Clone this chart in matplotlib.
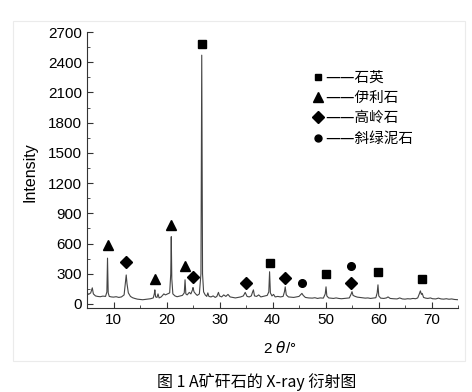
import matplotlib
matplotlib.use("Agg")
import matplotlib.pyplot as plt
from matplotlib.patches import Rectangle
from matplotlib.ticker import MultipleLocator

plt.rcParams['font.family'] = ['Liberation Sans', 'Noto Sans CJK SC', 'DejaVu Sans']

# XRD pattern: 2theta (deg) and intensity
two_theta = [
    5.0, 5.3, 5.7, 6.0, 6.2, 6.6, 7.0, 7.5, 8.0, 8.5, 8.75, 8.87, 9.0, 9.2, 9.6,
    10.0, 10.5, 11.0, 11.5, 12.0, 12.25, 12.4, 12.55, 12.8, 13.2, 13.6, 14.0, 14.5,
    15.0, 15.5, 16.0, 16.5, 17.0, 17.5, 17.7, 17.8, 17.95, 18.2, 18.4, 18.6, 19.0,
    19.5, 19.8, 20.2, 20.6, 20.8, 20.9, 21.0, 21.2, 21.6, 22.0, 22.5, 23.0, 23.35,
    23.5, 23.65, 23.9, 24.3, 24.6, 24.9, 25.0, 25.2, 25.5, 25.8, 26.2, 26.5, 26.65,
    26.8, 27.0, 27.3, 27.6, 27.8, 28.0, 28.4, 28.8, 29.2, 29.5, 29.8, 30.0, 30.4,
    30.8, 31.2, 31.6, 32.0, 32.5, 33.0, 33.5, 34.0, 34.5, 34.85, 35.2, 35.6, 36.0,
    36.25, 36.4, 36.6, 37.0, 37.4, 37.8, 38.2, 38.6, 39.0, 39.3, 39.45, 39.6, 39.9,
    40.2, 40.5, 41.0, 41.5, 42.0, 42.25, 42.4, 42.6, 43.0, 43.5, 44.0, 44.5, 45.0,
    45.35, 45.55, 45.8, 46.2, 46.8, 47.5, 48.0, 48.5, 49.0, 49.6, 49.95, 50.1, 50.25,
    50.6, 51.0, 51.5, 52.0, 52.5, 53.0, 53.5, 54.0, 54.5, 54.85, 55.0, 55.2, 55.6,
    56.0, 56.5, 57.0, 57.5, 58.0, 58.5, 59.0, 59.5, 59.75, 59.9, 60.05, 60.4, 61.0,
    61.5, 61.8, 62.2, 62.8, 63.5, 64.0, 64.5, 65.0, 65.5, 66.0, 66.5, 67.0, 67.4,
    67.7, 67.9, 68.1, 68.25, 68.5, 68.9, 69.3, 69.8, 70.2, 70.8, 71.3, 71.8, 72.3,
    72.8, 73.3, 73.8, 74.3, 75.0,
]
intensity = [
    115, 95, 110, 160, 100, 80, 75, 72, 78, 75, 120, 455, 110, 75, 70,
    68, 72, 65, 70, 90, 220, 288, 200, 110, 75, 62, 55, 48,
    45, 42, 45, 48, 52, 60, 100, 140, 70, 65, 100, 60, 70,
    100, 90, 100, 110, 300, 668, 250, 100, 80, 72, 78, 85, 110,
    240, 100, 90, 115, 100, 140, 163, 120, 100, 85, 100, 300, 2470,
    300, 120, 90, 75, 110, 75, 70, 80, 65, 75, 115, 80, 70,
    90, 75, 95, 70, 65, 60, 65, 70, 80, 115, 75, 70, 80,
    120, 140, 80, 75, 90, 70, 75, 80, 85, 120, 320, 110, 80,
    95, 70, 75, 70, 75, 120, 170, 90, 70, 68, 65, 70, 75,
    95, 105, 85, 65, 60, 58, 62, 55, 60, 58, 100, 170, 80,
    60, 58, 55, 60, 55, 52, 55, 58, 60, 100, 122, 85, 75,
    68, 65, 62, 58, 60, 55, 58, 62, 110, 190, 80, 58, 55,
    60, 70, 55, 52, 50, 60, 50, 48, 52, 50, 55, 52, 60,
    100, 130, 95, 105, 65, 58, 55, 60, 52, 50, 58, 50, 48,
    52, 47, 50, 45, 42,
]

# phase markers (2theta, marker height)
quartz_x = [26.65, 39.45, 50.1, 59.9, 68.3]
quartz_y = [2580, 410, 295, 315, 245]
illite_x = [8.87, 17.8, 20.9, 23.4]
illite_y = [590, 248, 785, 375]
kaolinite_x = [12.3, 24.95, 34.95, 42.4, 54.85]
kaolinite_y = [412, 268, 210, 258, 208]
chlorite_x = [45.65, 54.9]
chlorite_y = [205, 372]

legend_labels = ['石英', '伊利石', '高岭石', '斜绿泥石']

fig = plt.figure(figsize=(4.72, 3.92), dpi=100)
fig.add_artist(Rectangle((13 / 472, 1 - 361 / 392), 452 / 472, 340 / 392,
                         transform=fig.transFigure, fill=False,
                         edgecolor='#ebebeb', lw=0.8))

ax = fig.add_axes([87 / 472, 84 / 392, 371 / 472, 276 / 392])
ax.plot(two_theta, intensity, color='#444444', lw=0.8)

ax.plot(quartz_x, quartz_y, 's', color='black', ms=5.5, ls='none')
ax.plot(illite_x, illite_y, '^', color='black', ms=7, ls='none')
ax.plot(kaolinite_x, kaolinite_y, 'D', color='black', ms=6, ls='none')
ax.plot(chlorite_x, chlorite_y, 'o', color='black', ms=5.5, ls='none')

ax.set_xlim(5, 75)
ax.set_ylim(-40, 2700)
ax.xaxis.set_major_locator(MultipleLocator(10))
ax.xaxis.set_minor_locator(MultipleLocator(5))
ax.yaxis.set_major_locator(MultipleLocator(300))
ax.yaxis.set_minor_locator(MultipleLocator(150))
ax.tick_params(which='both', direction='in', labelsize=11, color='#333333')
ax.tick_params(which='major', length=4)
ax.tick_params(which='minor', length=2)
for s in ['top', 'right']:
    ax.spines[s].set_visible(False)
for s in ['left', 'bottom']:
    ax.spines[s].set_color('#333333')

# legend drawn by hand: marker then "——name"
leg_markers = ['s', '^', 'D', 'o']
leg_sizes = [5, 6.5, 6, 5]
leg_y = [0.837, 0.764, 0.692, 0.616]
for m, ms, y, lab in zip(leg_markers, leg_sizes, leg_y, legend_labels):
    ax.plot([0.623], [y], m, color='black', ms=ms, transform=ax.transAxes, clip_on=False)
    ax.text(0.641, y, '——' + lab, transform=ax.transAxes, va='center', ha='left',
            fontsize=10.5, family=['DejaVu Sans', 'Noto Sans CJK SC'])

fig.text(30 / 472, 0.56, 'Intensity', rotation=90, va='center', ha='center', fontsize=11.5)
fig.text(280 / 472, 44 / 392, r'2 $\theta$/°', va='center', ha='center', fontsize=11)
fig.text(257 / 472, 10 / 392, '图 1 A矿矸石的 X-ray 衍射图', va='center', ha='center',
         fontsize=11.5, family=['Noto Sans CJK SC', 'DejaVu Sans'])

fig.savefig('out.png', dpi=100)
